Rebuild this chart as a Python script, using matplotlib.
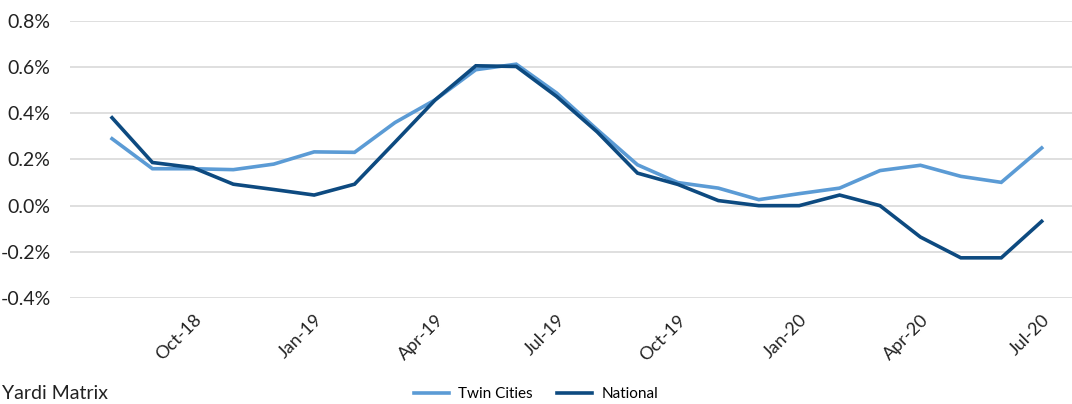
import matplotlib.pyplot as plt
from matplotlib.ticker import FuncFormatter

plt.rcParams['font.family'] = ['Lato', 'DejaVu Sans']

months = ['Aug-18', 'Sep-18', 'Oct-18', 'Nov-18', 'Dec-18', 'Jan-19', 'Feb-19', 'Mar-19',
          'Apr-19', 'May-19', 'Jun-19', 'Jul-19', 'Aug-19', 'Sep-19', 'Oct-19', 'Nov-19',
          'Dec-19', 'Jan-20', 'Feb-20', 'Mar-20', 'Apr-20', 'May-20', 'Jun-20', 'Jul-20']

# month-over-month rent change, %
twin_cities = [0.29, 0.16, 0.16, 0.156, 0.18, 0.233, 0.231, 0.36, 0.459, 0.589, 0.613, 0.488,
               0.33, 0.177, 0.10, 0.076, 0.026, 0.052, 0.076, 0.152, 0.175, 0.127, 0.101, 0.25]
national = [0.381, 0.187, 0.165, 0.093, 0.07, 0.046, 0.093, 0.275, 0.459, 0.606, 0.603, 0.473,
            0.32, 0.141, 0.092, 0.022, 0.0, 0.0, 0.046, 0.0, -0.136, -0.226, -0.226, -0.068]

tick_months = ['Oct-18', 'Jan-19', 'Apr-19', 'Jul-19', 'Oct-19', 'Jan-20', 'Apr-20', 'Jul-20']

fig = plt.figure(figsize=(10.72, 4.04), dpi=100)
ax = fig.add_axes([0.0653, 0.2624, 0.9347, 0.6856])

x = list(range(len(months)))
ax.plot(x, twin_cities, color='#5b9bd5', lw=2.6, label='Twin Cities', solid_joinstyle='miter')
ax.plot(x, national, color='#0d4a80', lw=2.6, label='National', solid_joinstyle='miter')

ax.set_ylim(-0.4, 0.8)
ax.set_xlim(-1.04, 23.75)
ax.set_yticks([-0.4, -0.2, 0.0, 0.2, 0.4, 0.6, 0.8])
ax.yaxis.set_major_formatter(FuncFormatter(lambda v, _: f'{v:.1f}%'))
ax.set_xticks([months.index(m) for m in tick_months])
ax.set_xticklabels(tick_months, rotation=45, ha='right', rotation_mode='anchor')

ax.grid(axis='y', color='#d9d9d9', lw=1.2)
ax.set_axisbelow(True)
for s in ax.spines.values():
    s.set_visible(False)
ax.tick_params(axis='both', length=0, colors='#222222')
ax.tick_params(axis='y', labelsize=14, pad=14)
ax.tick_params(axis='x', labelsize=13, pad=10)

ax.legend(loc='center', bbox_to_anchor=(0.5, 0.025), bbox_transform=fig.transFigure,
          ncol=2, frameon=False, fontsize=11, handlelength=2.3, columnspacing=1.6,
          handletextpad=0.6)

fig.text(0.002, 0.012, 'Yardi Matrix', fontsize=14, color='#222222', va='baseline', ha='left')

fig.savefig('out.png', dpi=100)
